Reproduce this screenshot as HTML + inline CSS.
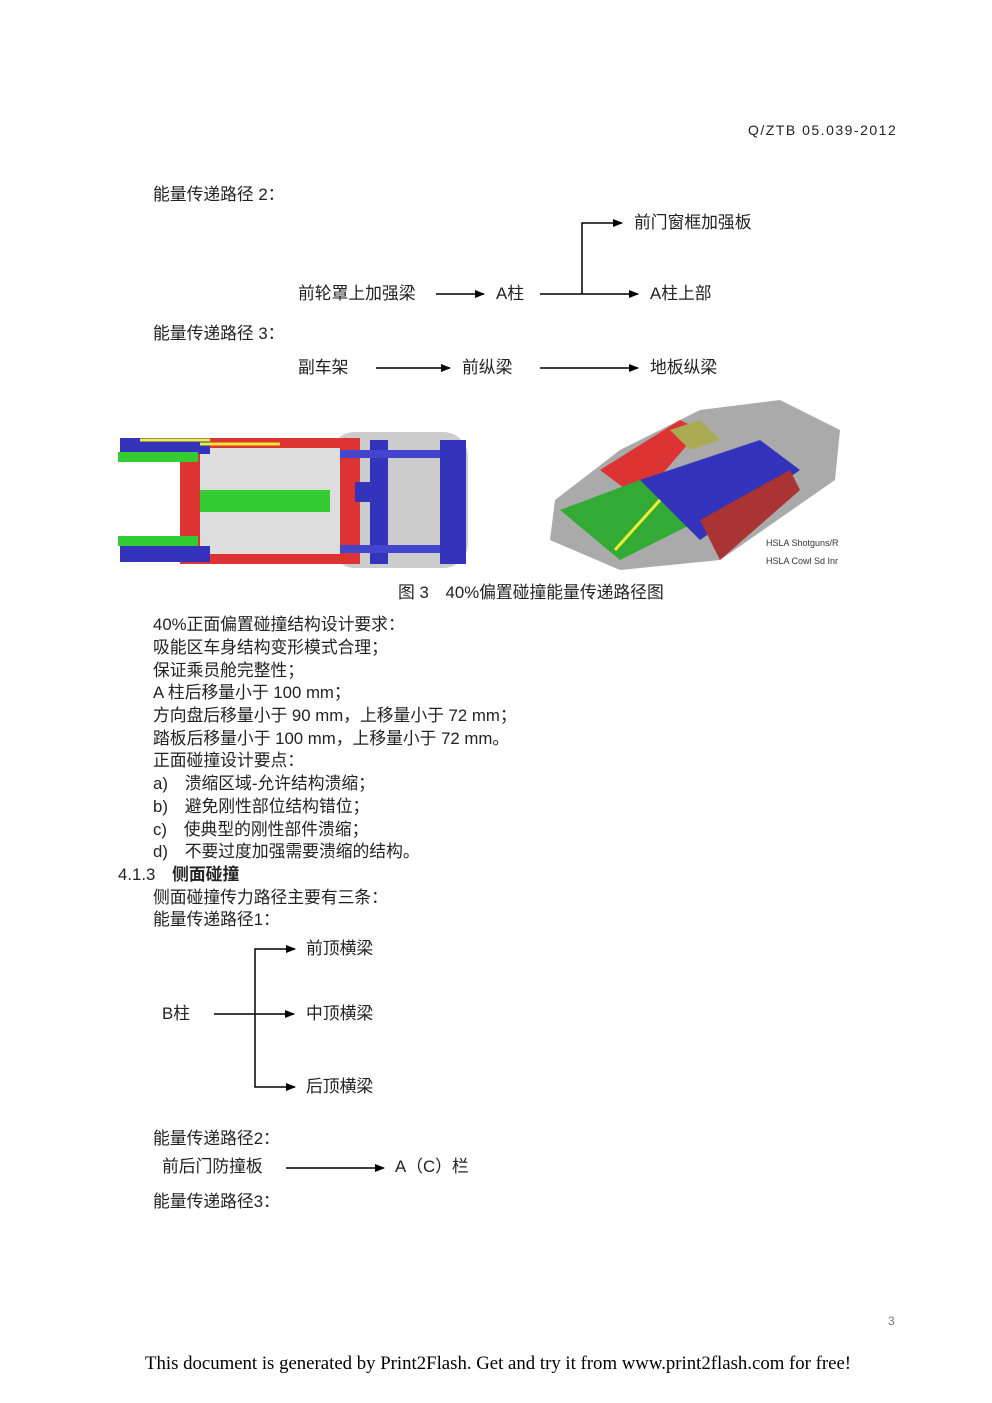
<!DOCTYPE html>
<html><head><meta charset="utf-8"><style>
body{margin:0;background:#fff;}
#p{position:relative;width:992px;height:1403px;overflow:hidden;font-family:"Liberation Sans","Noto Sans CJK SC",sans-serif;color:#222;}
.t{position:absolute;font-size:16.8px;line-height:18px;white-space:nowrap;}
svg{position:absolute;left:0;top:0;}
</style></head><body><div id="p">
<div class="t" style="left:748px;top:121px;font-size:14px;letter-spacing:1.5px;">Q/ZTB 05.039-2012</div>
<div class="t" style="left:153px;top:186px;">能量传递路径 2：</div>
<div class="t" style="left:634px;top:214px;">前门窗框加强板</div>
<div class="t" style="left:298px;top:285px;">前轮罩上加强梁</div>
<div class="t" style="left:496px;top:285px;">A柱</div>
<div class="t" style="left:650px;top:285px;">A柱上部</div>
<div class="t" style="left:153px;top:325px;">能量传递路径 3：</div>
<div class="t" style="left:298px;top:359px;">副车架</div>
<div class="t" style="left:462px;top:359px;">前纵梁</div>
<div class="t" style="left:650px;top:359px;">地板纵梁</div>
<div class="t" style="left:398px;top:584px;">图 3　40%偏置碰撞能量传递路径图</div>
<div class="t" style="left:153px;top:616px;">40%正面偏置碰撞结构设计要求：</div>
<div class="t" style="left:153px;top:639px;">吸能区车身结构变形模式合理；</div>
<div class="t" style="left:153px;top:662px;">保证乘员舱完整性；</div>
<div class="t" style="left:153px;top:684px;">A 柱后移量小于 100 mm；</div>
<div class="t" style="left:153px;top:707px;">方向盘后移量小于 90 mm，上移量小于 72 mm；</div>
<div class="t" style="left:153px;top:730px;">踏板后移量小于 100 mm，上移量小于 72 mm。</div>
<div class="t" style="left:153px;top:752px;">正面碰撞设计要点：</div>
<div class="t" style="left:153px;top:775px;">a)　溃缩区域-允许结构溃缩；</div>
<div class="t" style="left:153px;top:798px;">b)　避免刚性部位结构错位；</div>
<div class="t" style="left:153px;top:821px;">c)　使典型的刚性部件溃缩；</div>
<div class="t" style="left:153px;top:843px;">d)　不要过度加强需要溃缩的结构。</div>
<div class="t" style="left:118px;top:866px;">4.1.3　<b>侧面碰撞</b></div>
<div class="t" style="left:153px;top:889px;">侧面碰撞传力路径主要有三条：</div>
<div class="t" style="left:153px;top:911px;">能量传递路径1：</div>
<div class="t" style="left:306px;top:940px;">前顶横梁</div>
<div class="t" style="left:162px;top:1005px;">B柱</div>
<div class="t" style="left:306px;top:1005px;">中顶横梁</div>
<div class="t" style="left:306px;top:1078px;">后顶横梁</div>
<div class="t" style="left:153px;top:1130px;">能量传递路径2：</div>
<div class="t" style="left:162px;top:1158px;">前后门防撞板</div>
<div class="t" style="left:395px;top:1158px;">A（C）栏</div>
<div class="t" style="left:153px;top:1193px;">能量传递路径3：</div>
<div class="t" style="left:888px;top:1312px;font-size:12px;color:#777;">3</div>
<div class="t" style="left:145px;top:1355px;font-family:'Liberation Serif',serif;font-size:18.8px;color:#000;">This document is generated by Print2Flash. Get and try it from www.print2flash.com for free!</div>
<svg width="992" height="1403">
<defs><marker id="a" markerWidth="10" markerHeight="8" refX="9" refY="4" orient="auto" markerUnits="userSpaceOnUse"><path d="M0,0L10,4L0,8z" fill="#000"/></marker></defs>
<g stroke="#000" stroke-width="1.5" fill="none">
<line x1="436" y1="294" x2="484" y2="294" marker-end="url(#a)"/>
<line x1="540" y1="294" x2="638" y2="294" marker-end="url(#a)"/>
<polyline points="582,294 582,223 622,223" marker-end="url(#a)"/>
<line x1="376" y1="368" x2="450" y2="368" marker-end="url(#a)"/>
<line x1="540" y1="368" x2="638" y2="368" marker-end="url(#a)"/>
<line x1="214" y1="1014" x2="294" y2="1014" marker-end="url(#a)"/>
<polyline points="294,949 255,949 255,1087 294,1087" />
<line x1="286" y1="949" x2="295" y2="949" marker-end="url(#a)"/>
<line x1="286" y1="1087" x2="295" y2="1087" marker-end="url(#a)"/>
<line x1="286" y1="1168" x2="384" y2="1168" marker-end="url(#a)"/>
</g>
<g>
<rect x="330" y="432" width="138" height="136" rx="25" fill="#ccc"/>
<rect x="180" y="438" width="180" height="126" fill="#d33"/>
<rect x="200" y="448" width="140" height="106" fill="#ddd"/>
<rect x="200" y="490" width="130" height="22" fill="#3c3"/>
<rect x="370" y="440" width="18" height="124" fill="#33b"/>
<rect x="440" y="440" width="26" height="124" fill="#33b"/>
<rect x="340" y="450" width="100" height="8" fill="#44c"/>
<rect x="340" y="545" width="100" height="8" fill="#44c"/>
<rect x="120" y="438" width="90" height="16" fill="#33b"/>
<rect x="120" y="546" width="90" height="16" fill="#33b"/>
<rect x="118" y="452" width="80" height="10" fill="#3c3"/>
<rect x="118" y="536" width="80" height="10" fill="#3c3"/>
<rect x="355" y="482" width="15" height="20" fill="#33b"/>
<line x1="140" y1="440" x2="210" y2="440" stroke="#ee3" stroke-width="3"/>
<line x1="200" y1="444" x2="280" y2="444" stroke="#ee3" stroke-width="3"/>
</g>
<g>
<polygon points="555,500 620,450 700,410 780,400 840,430 835,480 720,560 620,570 550,540" fill="#aaa"/>
<polygon points="600,470 680,420 700,430 640,500" fill="#d33"/>
<polygon points="560,510 640,480 700,520 620,560" fill="#3a3"/>
<polygon points="640,480 760,440 800,470 700,540" fill="#33b"/>
<polygon points="670,430 700,420 720,440 690,450" fill="#aa5"/>
<polygon points="700,520 790,470 800,490 720,560" fill="#a33"/>
<line x1="615" y1="550" x2="660" y2="500" stroke="#ee3" stroke-width="3"/>
</g>
<text x="766" y="546" font-size="9" font-family="Liberation Sans" fill="#333">HSLA Shotguns/R</text>
<text x="766" y="564" font-size="9" font-family="Liberation Sans" fill="#333">HSLA Cowl Sd Inr</text>
</svg>
</div></body></html>
